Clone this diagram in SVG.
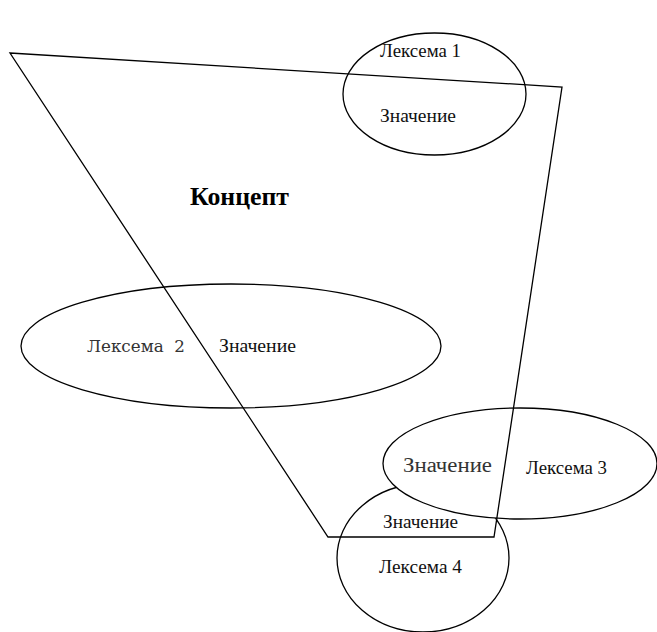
<svg xmlns="http://www.w3.org/2000/svg" width="657" height="632" viewBox="0 0 657 632">
<style>
.sh{fill:#fff;stroke:#000;stroke-width:1.3}
.t{font-family:"Liberation Serif","Times New Roman",serif;font-size:18px;fill:#111}
.t3{font-family:"Liberation Serif","Times New Roman",serif;font-size:20px;fill:#333}
.t2{font-family:"DejaVu Serif",serif;font-size:17px;fill:#333}
.b{font-family:"Liberation Serif","Times New Roman",serif;font-size:25px;font-weight:bold;fill:#000}
</style>
<rect width="657" height="632" fill="#fff"/>
<g id="lexeme2">
<ellipse class="sh" cx="231" cy="346" rx="210" ry="62"/>
</g>
<g id="lexeme1">
<ellipse class="sh" cx="434.5" cy="94" rx="91.5" ry="61"/>
</g>
<g id="lexeme4">
<ellipse class="sh" cx="423" cy="558" rx="86" ry="74"/>
</g>
<g id="lexeme3">
<ellipse class="sh" cx="520" cy="463.5" rx="137" ry="55.5"/>
</g>
<g id="concept">
<polygon points="10,53 562,87 494,537 328,537" fill="none" stroke="#000" stroke-width="1.3"/>
<text class="b" x="190" y="205" textLength="99" lengthAdjust="spacingAndGlyphs">Концепт</text>
</g>
<g id="labels">
<text class="t" x="380" y="57" textLength="81" lengthAdjust="spacingAndGlyphs">Лексема 1</text>
<text class="t" x="380" y="122" textLength="76" lengthAdjust="spacingAndGlyphs">Значение</text>
<text class="t2" x="87" y="352" xml:space="preserve" textLength="98" lengthAdjust="spacingAndGlyphs">Лексема  2</text>
<text class="t" x="219" y="352" textLength="77" lengthAdjust="spacingAndGlyphs">Значение</text>
<text class="t3" x="403" y="472" textLength="89" lengthAdjust="spacingAndGlyphs">Значение</text>
<text class="t" x="526" y="474" textLength="81" lengthAdjust="spacingAndGlyphs">Лексема 3</text>
<text class="t" x="383" y="528" textLength="75" lengthAdjust="spacingAndGlyphs">Значение</text>
<text class="t" x="379" y="573" textLength="83" lengthAdjust="spacingAndGlyphs">Лексема 4</text>
</g>
</svg>
